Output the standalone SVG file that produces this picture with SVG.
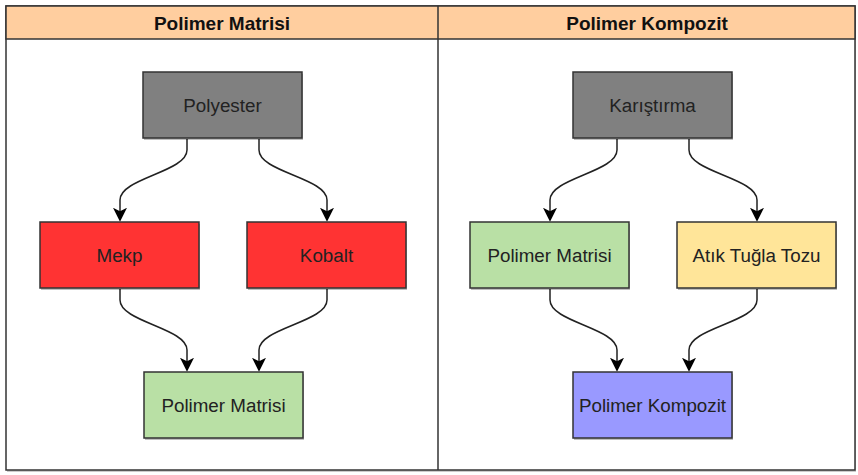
<svg xmlns="http://www.w3.org/2000/svg" width="858" height="475" viewBox="0 0 858 475">
<defs>
<marker id="arr" markerWidth="14" markerHeight="14" viewBox="0 0 12 12" refX="10.5" refY="6" orient="auto" markerUnits="userSpaceOnUse">
<path d="M0,0 L12,6 L0,12 L3,6 Z" fill="#000"/>
</marker>
</defs>
<style>
.box{stroke:#333;stroke-width:1.5}
.sh{fill:#000;opacity:0.25}
.lbl{font-family:"Liberation Sans",Arial,sans-serif;font-size:18.8px;fill:#222;text-anchor:middle;dominant-baseline:central}
.hdr{font-family:"Liberation Sans",Arial,sans-serif;font-size:19px;font-weight:bold;fill:#111;text-anchor:middle;dominant-baseline:central}
.edge{fill:none;stroke:#222;stroke-width:1.5;marker-end:url(#arr)}
</style>
<rect width="858" height="475" fill="#fff"/>
<g id="pool">
<rect x="7" y="8" width="849" height="464" fill="#000" opacity="0.2"/>
<rect x="6" y="6" width="849" height="464" fill="#fff" stroke="#333" stroke-width="1.5"/>
<rect x="6" y="6" width="849" height="33" fill="#FFCE9F" stroke="#333" stroke-width="1.5"/>
<line x1="438" y1="6" x2="438" y2="470" stroke="#333" stroke-width="1.5"/>
<text class="hdr" x="222" y="23">Polimer Matrisi</text>
<text class="hdr" x="647" y="23">Polimer Kompozit</text>
</g>
<g id="connectors">
<path class="edge" d="M187,139 V150 C187,172 120,178 120,200 V220"/>
<path class="edge" d="M259,139 V150 C259,172 327,178 327,200 V220"/>
<path class="edge" d="M120,289 V300 C120,322 187,328 187,350 V370"/>
<path class="edge" d="M327,289 V300 C327,322 259,328 259,350 V370"/>
<path class="edge" d="M617,139 V150 C617,172 550,178 550,200 V220"/>
<path class="edge" d="M689,139 V150 C689,172 757,178 757,200 V220"/>
<path class="edge" d="M550,289 V300 C550,322 617,328 617,350 V370"/>
<path class="edge" d="M757,289 V300 C757,322 689,328 689,350 V370"/>
</g>
<g id="polyester">
<rect class="sh" x="144" y="74" width="159" height="66"/>
<rect class="box" x="143" y="72" width="159" height="66" fill="#808080"/>
<text class="lbl" x="222.5" y="105">Polyester</text>
</g>
<g id="mekp">
<rect class="sh" x="41" y="224" width="159" height="66"/>
<rect class="box" x="40" y="222" width="159" height="66" fill="#FF3333"/>
<text class="lbl" x="119.5" y="255">Mekp</text>
</g>
<g id="kobalt">
<rect class="sh" x="248" y="224" width="159" height="66"/>
<rect class="box" x="247" y="222" width="159" height="66" fill="#FF3333"/>
<text class="lbl" x="326.5" y="255">Kobalt</text>
</g>
<g id="polimer-matrisi-1">
<rect class="sh" x="145" y="374" width="159" height="66"/>
<rect class="box" x="144" y="372" width="159" height="66" fill="#B9E0A5"/>
<text class="lbl" x="223.5" y="405">Polimer Matrisi</text>
</g>
<g id="karistirma">
<rect class="sh" x="574" y="74" width="159" height="66"/>
<rect class="box" x="573" y="72" width="159" height="66" fill="#808080"/>
<text class="lbl" x="652.5" y="105">Karıştırma</text>
</g>
<g id="polimer-matrisi-2">
<rect class="sh" x="471" y="224" width="159" height="66"/>
<rect class="box" x="470" y="222" width="159" height="66" fill="#B9E0A5"/>
<text class="lbl" x="549.5" y="255">Polimer Matrisi</text>
</g>
<g id="atik-tugla-tozu">
<rect class="sh" x="678" y="224" width="159" height="66"/>
<rect class="box" x="677" y="222" width="159" height="66" fill="#FFE599"/>
<text class="lbl" x="756.5" y="255">Atık Tuğla Tozu</text>
</g>
<g id="polimer-kompozit">
<rect class="sh" x="574" y="374" width="159" height="66"/>
<rect class="box" x="573" y="372" width="159" height="66" fill="#9999FF"/>
<text class="lbl" x="652.5" y="405">Polimer Kompozit</text>
</g>
</svg>
